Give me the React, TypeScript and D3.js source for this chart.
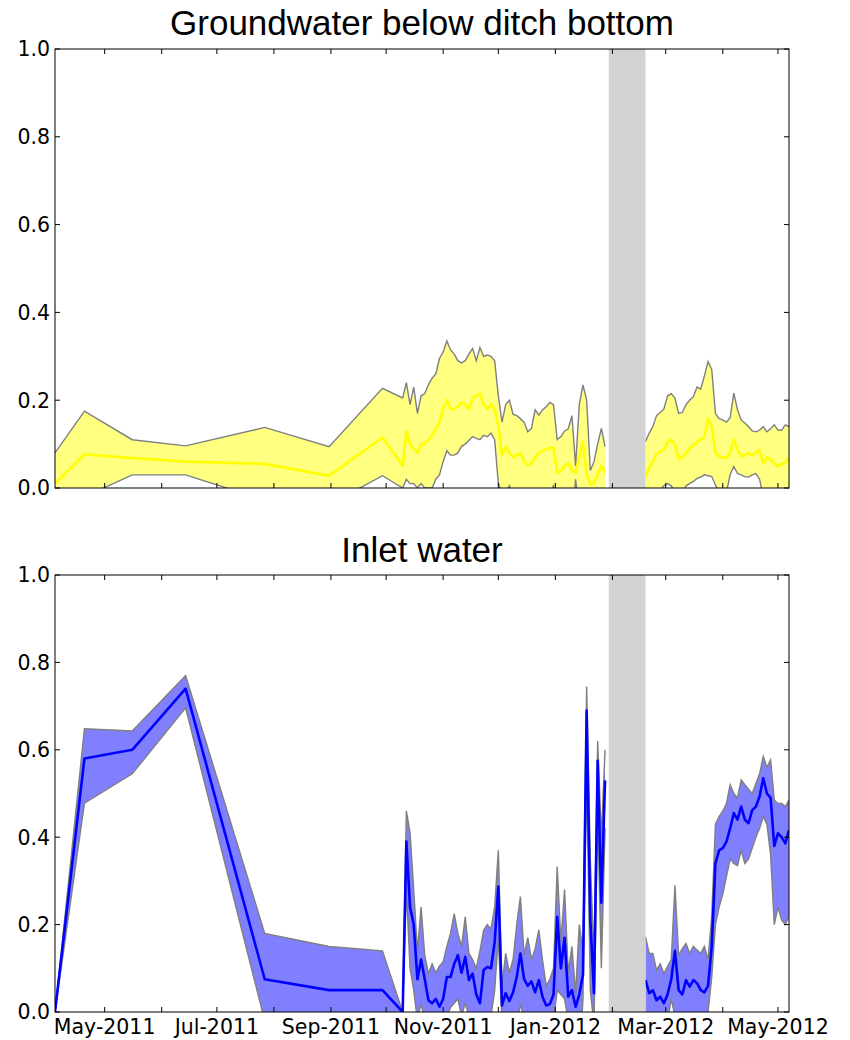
import React from 'react'
import * as d3 from 'd3'

const parse = d3.timeParse('%Y-%m-%d')

// spot samples taken before the loggers were installed
const surveyDates = ['2011-04-04', '2011-04-20', '2011-05-16', '2011-06-14', '2011-07-27', '2011-08-31', '2011-09-29']
// logger records, one value every second day
const winterStart = '2011-10-10'
const springStart = '2012-02-19'
const outage = ['2012-01-30', '2012-02-19']

const gwSurveyMean = [0.01, 0.077, 0.068, 0.06, 0.055, 0.028, 0.115]
const gwSurveyLow = [-0.06, -0.02, 0.03, 0.03, -0.028, -0.038, 0.028]
const gwSurveyHigh = [0.08, 0.175, 0.11, 0.096, 0.138, 0.094, 0.227]

const gwWinterMean = [0.05, 0.13, 0.1, 0.09, 0.08, 0.1, 0.1, 0.11, 0.12, 0.135,
  0.15, 0.18, 0.2, 0.18, 0.18, 0.185, 0.195, 0.19, 0.18, 0.205,
  0.21, 0.215, 0.19, 0.18, 0.19, 0.18, 0.14, 0.075, 0.094, 0.08,
  0.07, 0.075, 0.079, 0.06, 0.052, 0.056, 0.07, 0.08, 0.085, 0.088,
  0.092, 0.09, 0.035, 0.04, 0.05, 0.056, 0.04, 0.035, 0.07, 0.105,
  0.03, 0.008, 0.012, 0.03, 0.05, 0.035]
const gwWinterLow = [0, 0.02, 0.01, 0.01, 0, 0.01, 0, 0, 0, 0.02,
  0.03, 0.06, 0.085, 0.075, 0.075, 0.08, 0.095, 0.1, 0.108, 0.117,
  0.113, 0.11, 0.12, 0.117, 0.125, 0.11, 0.01, -0.01, -0.01, 0.005,
  -0.02, -0.01, -0.02, -0.03, -0.02, -0.02, -0.03, -0.01, -0.01, -0.01,
  -0.01, 0.005, -0.04, -0.03, -0.03, -0.02, -0.08, 0.02, -0.05, -0.02,
  -0.14, -0.02, -0.03, -0.04, -0.03, -0.02]
const gwWinterHigh = [0.205, 0.24, 0.19, 0.23, 0.17, 0.21, 0.215, 0.235, 0.25, 0.26,
  0.295, 0.31, 0.335, 0.315, 0.305, 0.29, 0.285, 0.29, 0.305, 0.318,
  0.29, 0.32, 0.3, 0.303, 0.3, 0.29, 0.21, 0.15, 0.19, 0.2,
  0.168, 0.165, 0.158, 0.15, 0.128, 0.136, 0.178, 0.166, 0.178, 0.185,
  0.195, 0.19, 0.11, 0.117, 0.13, 0.135, 0.165, 0.05, 0.19, 0.235,
  0.2, 0.04, 0.06, 0.1, 0.136, 0.094]

const gwSpringMean = [0.026, 0.045, 0.06, 0.078, 0.083, 0.088, 0.105, 0.11, 0.1, 0.066,
  0.07, 0.08, 0.09, 0.098, 0.105, 0.11, 0.117, 0.158, 0.14, 0.08,
  0.072, 0.07, 0.068, 0.08, 0.11, 0.087, 0.072, 0.075, 0.079, 0.075,
  0.08, 0.087, 0.056, 0.07, 0.065, 0.056, 0.049, 0.055, 0.058, 0.068]
const gwSpringLow = [-0.05, -0.03, -0.02, -0.01, -0.005, 0.005, 0.01, 0.005, -0.01, -0.03,
  -0.02, 0.005, 0.01, 0.015, 0.022, 0.025, 0.03, 0.028, 0.026, 0.007,
  -0.01, -0.01, -0.01, 0.03, 0.049, 0.033, 0.03, 0.026, 0.025, 0.03,
  0.033, 0.02, -0.02, -0.01, -0.01, -0.02, -0.03, -0.02, -0.02, -0.01]
const gwSpringHigh = [0.106, 0.125, 0.14, 0.165, 0.172, 0.18, 0.21, 0.215, 0.205, 0.17,
  0.172, 0.19, 0.2, 0.208, 0.23, 0.225, 0.255, 0.288, 0.27, 0.17,
  0.158, 0.155, 0.15, 0.16, 0.216, 0.178, 0.155, 0.148, 0.14, 0.13,
  0.128, 0.132, 0.14, 0.128, 0.135, 0.144, 0.132, 0.132, 0.144, 0.14]

const inSurveyMean = [0, 0.58, 0.6, 0.74, 0.075, 0.05, 0.05]
const inSurveyLow = [0, 0.478, 0.545, 0.696, -0.02, -0.05, -0.04]
const inSurveyHigh = [0, 0.648, 0.643, 0.77, 0.18, 0.15, 0.14]

const inWinterMean = [0, 0.39, 0.24, 0.2, 0.075, 0.12, 0.075, 0.027, 0.02, 0.03,
  0.012, 0.03, 0.08, 0.08, 0.11, 0.13, 0.09, 0.126, 0.073, 0.088,
  0.04, 0.02, 0.096, 0.103, 0.1, 0.16, 0.287, 0.015, 0.043, 0.025,
  0.045, 0.08, 0.134, 0.075, 0.06, 0.07, 0.045, 0.073, 0.035, 0.015,
  0.018, 0.04, 0.218, 0.1, 0.17, 0.035, 0.05, 0.012, 0.04, 0.085,
  0.69, 0.21, 0.043, 0.575, 0.25, 0.53]
const inWinterLow = [0, 0.28, 0.1, 0.05, -0.02, 0.02, -0.02, -0.03, -0.07, -0.03,
  -0.08, -0.05, -0.01, 0.01, 0.02, 0.03, -0.01, 0.02, -0.01, -0.02,
  -0.02, -0.1, -0.01, -0.01, -0.01, 0.05, 0.17, -0.03, -0.05, -0.04,
  -0.03, -0.04, 0.02, -0.02, -0.05, -0.02, -0.05, -0.04, -0.05, -0.03,
  -0.04, -0.02, 0.05, 0.04, 0.03, -0.02, -0.05, -0.02, -0.12, 0.03,
  0.55, 0.05, -0.03, 0.45, 0.1, 0.42]
const inWinterHigh = [0, 0.46, 0.41, 0.28, 0.14, 0.24, 0.13, 0.088, 0.11, 0.09,
  0.105, 0.115, 0.15, 0.18, 0.225, 0.18, 0.15, 0.218, 0.134, 0.12,
  0.1, 0.14, 0.187, 0.2, 0.19, 0.24, 0.37, 0.06, 0.134, 0.09,
  0.12, 0.2, 0.264, 0.13, 0.17, 0.12, 0.145, 0.188, 0.12, 0.06,
  0.075, 0.1, 0.333, 0.16, 0.28, 0.09, 0.15, 0.043, 0.2, 0.14,
  0.745, 0.35, 0.12, 0.62, 0.4, 0.6]

const inSpringMean = [0.073, 0.043, 0.05, 0.027, 0.035, 0.02, 0.04, 0.075, 0.14, 0.05,
  0.04, 0.073, 0.058, 0.073, 0.066, 0.05, 0.045, 0.06, 0.15, 0.34,
  0.37, 0.375, 0.39, 0.42, 0.455, 0.44, 0.47, 0.44, 0.432, 0.462,
  0.47, 0.493, 0.535, 0.5, 0.49, 0.38, 0.409, 0.4, 0.386, 0.416]
const inSpringLow = [-0.03, -0.05, -0.03, -0.04, -0.04, -0.05, -0.02, 0.03, -0.01, -0.03,
  -0.06, -0.01, -0.02, -0.004, -0.01, -0.03, -0.06, 0, 0.08, 0.2,
  0.24, 0.27, 0.31, 0.35, 0.34, 0.335, 0.37, 0.34, 0.35, 0.375,
  0.4, 0.42, 0.447, 0.43, 0.36, 0.2, 0.24, 0.21, 0.2, 0.22]
const inSpringHigh = [0.172, 0.134, 0.134, 0.096, 0.11, 0.088, 0.104, 0.12, 0.29, 0.13,
  0.145, 0.157, 0.134, 0.15, 0.142, 0.134, 0.15, 0.12, 0.22, 0.43,
  0.447, 0.46, 0.477, 0.52, 0.5, 0.49, 0.531, 0.52, 0.51, 0.5,
  0.523, 0.545, 0.585, 0.56, 0.577, 0.485, 0.477, 0.477, 0.47, 0.485]

const everyOtherDay = (start, n) => d3.range(n).map(i => d3.timeDay.offset(parse(start), 2 * i))

const rows = (dates, mean, low, high) =>
  dates.map((date, i) => ({ date, mean: mean[i], low: low[i], high: high[i] }))

const logged = (survey, winter, spring) => [
  rows(
    [...surveyDates.map(parse), ...everyOtherDay(winterStart, winter[0].length)],
    [...survey[0], ...winter[0]], [...survey[1], ...winter[1]], [...survey[2], ...winter[2]]
  ),
  rows(everyOtherDay(springStart, spring[0].length), spring[0], spring[1], spring[2]),
]

const panels = [
  {
    key: 'gw',
    title: 'Groundwater below ditch bottom',
    top: 49, bottom: 488, titleY: 35,
    fill: '#ffff80', line: '#ffff00', dates: false,
    parts: logged(
      [gwSurveyMean, gwSurveyLow, gwSurveyHigh],
      [gwWinterMean, gwWinterLow, gwWinterHigh],
      [gwSpringMean, gwSpringLow, gwSpringHigh]
    ),
  },
  {
    key: 'inlet',
    title: 'Inlet water',
    top: 575, bottom: 1012, titleY: 562,
    fill: '#8080ff', line: '#0000ff', dates: true,
    parts: logged(
      [inSurveyMean, inSurveyLow, inSurveyHigh],
      [inWinterMean, inWinterLow, inWinterHigh],
      [inSpringMean, inSpringLow, inSpringHigh]
    ),
  },
]

const left = 55
const right = 789
const tickFont = 'DejaVu Sans'

const Panel = ({ p }) => {
  const all = p.parts.flat()
  const x = d3.scaleTime().domain(d3.extent(all, d => d.date)).range([left, right])
  const y = d3.scaleLinear().domain([0, 1]).range([p.bottom, p.top])
  const band = d3.area().x(d => x(d.date)).y0(d => y(d.low)).y1(d => y(d.high))
  const meanLine = d3.line().x(d => x(d.date)).y(d => y(d.mean))
  const lowLine = d3.line().x(d => x(d.date)).y(d => y(d.low))
  const highLine = d3.line().x(d => x(d.date)).y(d => y(d.high))
  const months = d3.timeMonth.range(d3.timeMonth.ceil(x.domain()[0]), x.domain()[1])
  const fmt = d3.timeFormat('%b-%Y')
  const clip = `clip-${p.key}`

  return (
    <g>
      <text x={(left + right) / 2} y={p.titleY} textAnchor="middle"
        fontFamily="Liberation Sans, Arial, sans-serif" fontSize={35}>{p.title}</text>
      <defs>
        <clipPath id={clip}>
          <rect x={left} y={p.top} width={right - left} height={p.bottom - p.top} />
        </clipPath>
      </defs>
      <g clipPath={`url(#${clip})`}>
        {p.parts.map((part, i) => (
          <g key={i}>
            <path d={band(part)} fill={p.fill} stroke="none" />
            <path d={lowLine(part)} fill="none" stroke="#7f7f7f" strokeWidth={1.4} />
            <path d={highLine(part)} fill="none" stroke="#7f7f7f" strokeWidth={1.4} />
            <path d={meanLine(part)} fill="none" stroke={p.line} strokeWidth={2.6} strokeLinejoin="round" />
          </g>
        ))}
        <rect x={x(parse(outage[0]))} width={x(parse(outage[1])) - x(parse(outage[0]))}
          y={p.top} height={p.bottom - p.top} fill="#d3d3d3" />
      </g>
      <rect x={left} y={p.top} width={right - left} height={p.bottom - p.top}
        fill="none" stroke="#000" strokeWidth={1} />
      {y.ticks(5).map(t => (
        <g key={t}>
          <line x1={left} x2={left + 5} y1={y(t)} y2={y(t)} stroke="#000" />
          <line x1={right} x2={right - 5} y1={y(t)} y2={y(t)} stroke="#000" />
          <text x={left - 5} y={y(t)} dy="0.36em" textAnchor="end"
            fontFamily={tickFont} fontSize={20.5}>{d3.format('.1f')(t)}</text>
        </g>
      ))}
      {months.map(m => (
        <g key={+m}>
          <line x1={x(m)} x2={x(m)} y1={p.bottom} y2={p.bottom - 5} stroke="#000" />
          <line x1={x(m)} x2={x(m)} y1={p.top} y2={p.top + 5} stroke="#000" />
          {p.dates && m.getMonth() % 2 === 0 && (
            <text x={x(m)} y={p.bottom + 22} textAnchor="middle"
              fontFamily={tickFont} fontSize={20.5}>{fmt(m)}</text>
          )}
        </g>
      ))}
    </g>
  )
}

export default function App() {
  return (
    <svg width={850} height={1040} style={{ position: 'absolute', left: 0, top: 0, background: '#fff' }}>
      <rect width={850} height={1040} fill="#fff" />
      {panels.map(p => <Panel key={p.key} p={p} />)}
    </svg>
  )
}
